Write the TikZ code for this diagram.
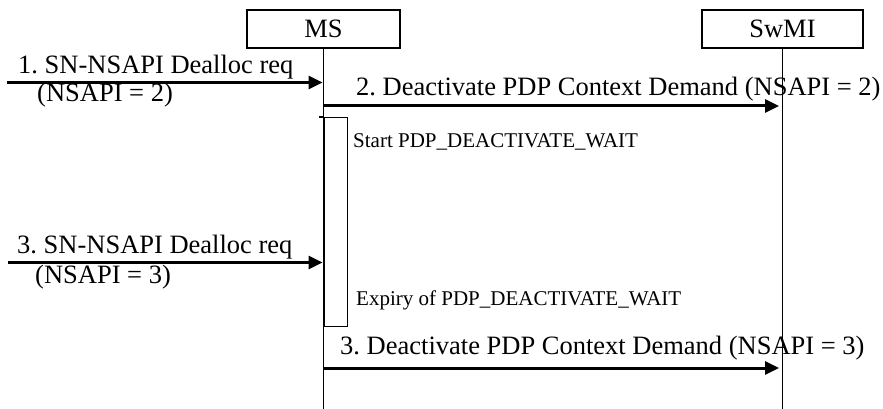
\documentclass[tikz,border=0pt]{standalone}
\usepackage{fontspec}
\setmainfont{Liberation Serif}
\usetikzlibrary{arrows.meta, positioning}
\frenchspacing

\begin{document}
\begin{tikzpicture}[
    x=1pt, y=-1pt,
    font=\fontsize{26.5}{30}\selectfont,
    >={Triangle[length=14pt, width=13pt]},
    entity/.style={
        draw, line width=1.5pt,
        minimum width=#1, minimum height=38pt,
        inner sep=0pt
    },
    lifeline/.style={line width=1.4pt},
    msg/.style={->, line width=3pt, shorten >=1pt},
    lbl/.style={anchor=base west, inner sep=0pt},
    note/.style={anchor=base west, inner sep=0pt, font=\fontsize{21}{25}\selectfont}
]
\useasboundingbox (0,0) rectangle (883,409);

% Entities
\node[entity=153pt] (ms) at (323.5, 29) {MS};
\node[entity=161pt] (swmi) at (782.5, 29) {SwMI};

% Lifelines
\coordinate (ms_end) at (323.5, 409);
\coordinate (swmi_end) at (782.5, 409);
\draw[lifeline] (ms.south) -- (ms_end);
\draw[lifeline] (swmi.south) -- (swmi_end);

% Timer box
\node[draw, line width=1.2pt, minimum width=23pt, minimum height=209pt,
      inner sep=0pt, anchor=north west] (timer) at (323.5, 117) {};
\coordinate (timer_tick) at (319, 117);
\draw[line width=1.2pt] (timer_tick) -- (timer.north west);

% Incoming requests
\coordinate (src1) at (7, 82.5);
\coordinate (dst1) at (323.5, 82.5);
\coordinate (src3) at (8, 262.5);
\coordinate (dst3) at (323.5, 262.5);
\draw[msg] (src1) -- (dst1);
\draw[msg] (src3) -- (dst3);

\node[lbl] (req1) at (18, 74) {1. SN-NSAPI Dealloc req};
\node[lbl] (req1b) at (37, 102) {(NSAPI = 2)};
\node[lbl] (req3) at (17, 253) {3. SN-NSAPI Dealloc req};
\node[lbl] (req3b) at (35, 283) {(NSAPI = 3)};

% Demands to SwMI
\coordinate (src2) at (323.5, 106);
\coordinate (dst2) at (780, 106);
\coordinate (src4) at (323.5, 368);
\coordinate (dst4) at (780, 368);
\draw[msg] (src2) -- (dst2);
\draw[msg] (src4) -- (dst4);

\node[lbl] (dem2) at (356, 96) {2. Deactivate PDP Context Demand (NSAPI = 2)};
\node[lbl] (dem4) at (340, 354) {3. Deactivate PDP Context Demand (NSAPI = 3)};

% Timer notes
\node[note] (start) at (353, 147) {Start PDP\_DEACTIVATE\_WAIT};
\node[note] (expiry) at (356, 305) {Expiry of PDP\_DEACTIVATE\_WAIT};

\end{tikzpicture}
\end{document}
